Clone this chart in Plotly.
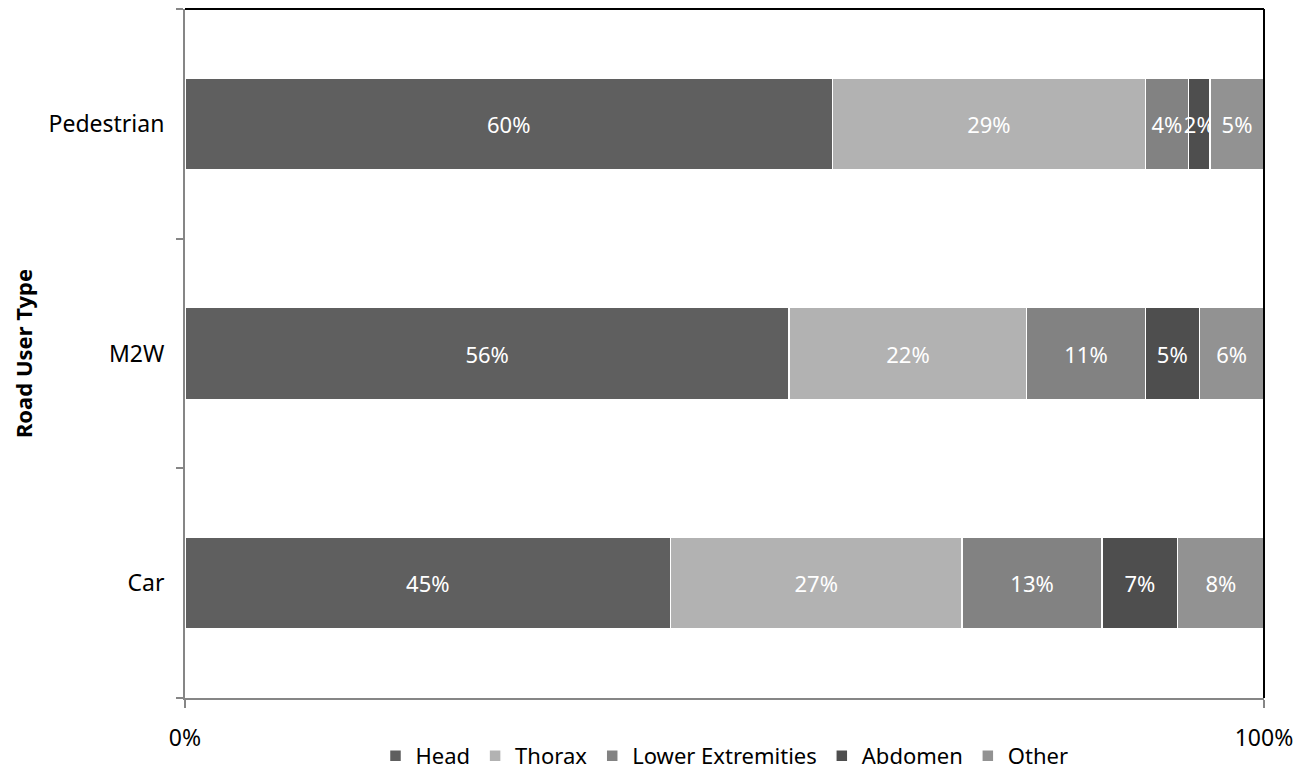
import plotly.graph_objects as go

categories = ["Car", "M2W", "Pedestrian"]
parts = ["Head", "Thorax", "Lower Extremities", "Abdomen", "Other"]
head = [45, 56, 60]
thorax = [27, 22, 29]
lower = [13, 11, 4]
abdomen = [7, 5, 2]
other = [8, 6, 5]
series = [head, thorax, lower, abdomen, other]
colors = ["#5f5f5f", "#b2b2b2", "#828282", "#4e4e4e", "#929292"]
x_ticks = [0, 1]
x_tick_labels = ["0%", "100%"]

FONT = "Noto Sans"

fig = go.Figure()
for name, vals, col in zip(parts, series, colors):
    fig.add_trace(go.Bar(
        y=categories,
        x=[v / 100 for v in vals],
        name=name,
        orientation="h",
        marker=dict(color=col, line=dict(color="white", width=1.5)),
        text=[f"{v}%" for v in vals],
        textposition="inside",
        insidetextanchor="middle",
        textangle=0,
        textfont=dict(color="white", size=22, family=FONT),
        hoverinfo="skip",
    ))

fig.update_layout(
    barmode="stack",
    bargap=0.6,
    width=1301,
    height=764,
    margin=dict(l=177, r=45, t=1, b=74, autoexpand=False),
    paper_bgcolor="white",
    plot_bgcolor="white",
    font=dict(family=FONT, size=22, color="black"),
    uniformtext=dict(minsize=22, mode="show"),
    showlegend=True,
    legend=dict(
        orientation="h",
        x=0.5, xanchor="center",
        xref="paper",
        y=0.021, yanchor="middle",
        yref="container",
        font=dict(size=22, family=FONT),
        traceorder="normal",
        itemwidth=30,
    ),
    xaxis=dict(
        range=[0, 1],
        tickvals=x_ticks,
        ticktext=x_tick_labels,
        showgrid=False,
        zeroline=False,
        showline=True,
        linecolor="#868686",
        linewidth=2,
        ticks="outside",
        ticklen=8,
        tickcolor="#868686",
        tickwidth=2,
        ticklabelstandoff=10,
        automargin=False,
        tickfont=dict(size=23, family=FONT),
    ),
    yaxis=dict(
        categoryorder="array",
        categoryarray=categories,
        showgrid=False,
        zeroline=False,
        showline=True,
        linecolor="#868686",
        linewidth=2,
        ticks="outside",
        tickson="boundaries",
        ticklen=7,
        tickcolor="#868686",
        tickwidth=2,
        ticklabelstandoff=14,
        automargin=False,
        tickfont=dict(size=23, family=FONT),
        title=dict(text="<b>Road User Type</b>", font=dict(size=22, family=FONT), standoff=10),
    ),
)

fig.add_shape(type="line", xref="paper", yref="paper", x0=0, x1=1, y0=1, y1=1,
              line=dict(color="black", width=2))
fig.add_shape(type="line", xref="paper", yref="paper", x0=1, x1=1, y0=0, y1=1,
              line=dict(color="black", width=2))

fig.write_html("out.html")
